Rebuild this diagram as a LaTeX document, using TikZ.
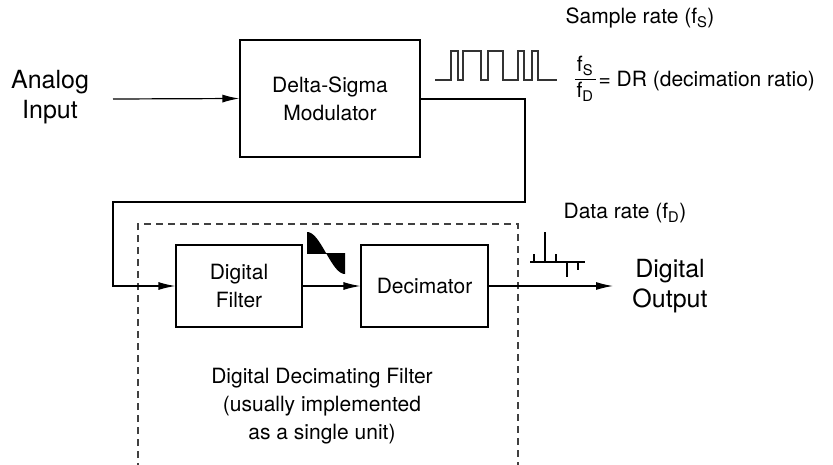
\documentclass[tikz,border=0pt]{standalone}
\usepackage{fontspec}
\setmainfont{TeX Gyre Heros}
\usetikzlibrary{arrows.meta}
\begin{document}
\begin{tikzpicture}[x=1pt,y=-1pt,
  line width=1.2pt,
  blk/.style={draw, line width=1.2pt, inner sep=0pt, align=center, font=\fontsize{21}{28}\selectfont},
  lbl/.style={align=center, inner sep=0pt, font=\fontsize{21}{28}\selectfont},
  big/.style={align=center, inner sep=0pt, font=\fontsize{25}{30}\selectfont},
  arr/.style={-{Latex[length=17pt,width=8pt]}},
  dashbox/.style={draw, line width=1.2pt, dash pattern=on 7pt off 5pt, color=black!75}]
\useasboundingbox (0,0) rectangle (833,464);
% dashed enclosure
\draw[dashbox] (138,470) -- (138,224) -- (518,224) -- (518,470);
% blocks
\node[blk, minimum width=180pt, minimum height=117pt] (mod) at (330,98.5) {Delta-Sigma\\Modulator};
\node[blk, minimum width=126pt, minimum height=82pt] (filt) at (239,286) {Digital\\Filter};
\node[blk, minimum width=127pt, minimum height=82pt] (dec) at (424.5,286) {Decimator};
% labels
\node[big] (ain) at (50,97) {Analog\\Input};
\node[big] (dout) at (670,286) {Digital\\Output};
\node[lbl] (ddf) at (322,406) {Digital Decimating Filter\\(usually implemented\\as a single unit)};
\node[lbl, anchor=west] (sr) at (565,18) {Sample rate (f\textsubscript{S})};
\node[lbl, anchor=west] (dr) at (563,213) {Data rate (f\textsubscript{D})};
\node[lbl] (fs) at (585,66) {f\textsubscript{S}};
\node[lbl] (fd) at (585,92) {f\textsubscript{D}};
\draw[line width=1pt] (575,79) -- (596,79);
\node[lbl, anchor=west] (eq) at (598,81) {= DR (decimation ratio)};
% connectors
\coordinate (ainend) at (113,99);
\coordinate (c1) at (525,99);
\coordinate (c2) at (525,202);
\coordinate (c3) at (113,202);
\coordinate (c4) at (113,286);
\coordinate (doutend) at (613,286);
\draw[arr] (ainend) -- (mod.west);
\draw[arr] (mod.east |- c1) -- (c1) -- (c2) -- (c3) -- (c4) -- (filt.west);
\draw[arr] (filt.east) -- (dec.west);
\draw[arr] (dec.east) -- (doutend);
% pulse train
\draw[line width=1.1pt, color=black!80] (435,80) -- (451,80) -- (451,51) -- (458,51) -- (458,80) -- (463,80) -- (463,51) -- (481,51) -- (481,80) -- (488,80) -- (488,51) -- (503,51) -- (503,80) -- (518,80) -- (518,51) -- (524,51) -- (524,80) -- (532,80) -- (532,51) -- (538,51) -- (538,80) -- (557,80);
% filtered waveform
\fill (307,253) -- plot[domain=307:345, samples=40] (\x, {253 - 21*cos(180*(\x-307)/38)}) -- (345,253) -- cycle;
\draw[line width=1pt] (307,253) -- (345,253);
% decimated spectrum
\draw[line width=1.4pt] (530,262) -- (585,262);
\draw[line width=1.4pt] (534,262) -- (534,254);
\draw[line width=1.4pt] (545,262) -- (545,232);
\draw[line width=1.4pt] (556,262) -- (556,254);
\draw[line width=1.4pt] (567,262) -- (567,277);
\draw[line width=1.4pt] (578,262) -- (578,270);
\end{tikzpicture}
\end{document}
